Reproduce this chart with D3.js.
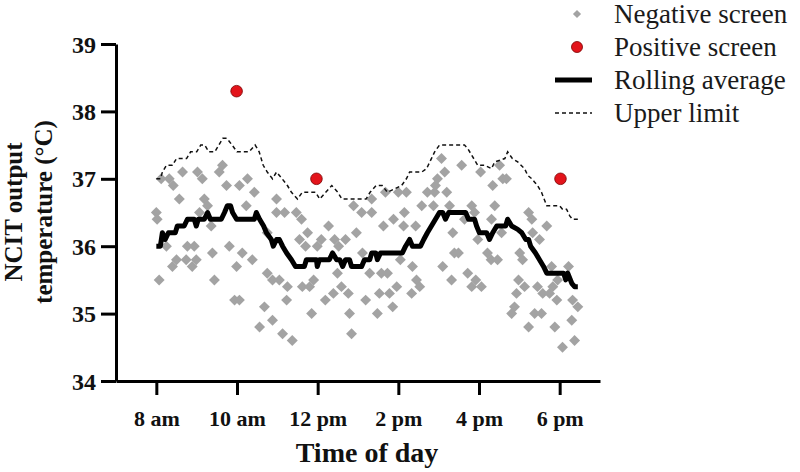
<!DOCTYPE html>
<html>
<head>
<meta charset="utf-8">
<script src="https://cdn.jsdelivr.net/npm/d3@7"></script>
<style>
  html, body { margin: 0; padding: 0; background: #fff; }
  svg { display: block; }
</style>
</head>
<body>
<svg id="chart" width="800" height="472"></svg>
<script>
// ---------- DATA ----------
const xTickHours = [8, 10, 12, 14, 16, 18];
const xTickLabels = ["8 am", "10 am", "12 pm", "2 pm", "4 pm", "6 pm"];
const yTicks = [34, 35, 36, 37, 38, 39];

// Negative screen (grey diamonds): time of day (hours), temperature (°C)
const negTimes = [8.00, 8.02, 8.07, 8.12, 8.25, 8.32, 8.42, 8.40, 8.50, 8.57, 8.65, 8.74, 8.77, 8.94, 8.89, 8.99,
  9.02, 9.14, 9.07, 9.19, 9.27, 9.36, 9.39, 9.44, 9.56, 9.64, 9.74, 9.81, 9.94, 10.06, 9.99, 10.13, 10.06, 10.26,
  10.23, 10.43, 10.38, 10.56, 10.68, 10.75, 10.75, 10.88, 11.05, 10.88, 10.98, 10.98, 11.18, 11.47, 11.60, 11.13,
  11.23, 11.25, 11.37, 11.55, 11.70, 11.75, 11.62, 11.80, 11.90, 11.85, 11.99, 12.09, 12.19, 12.27, 12.39, 12.42,
  12.52, 12.49, 12.59, 12.69, 12.76, 12.79, 12.84, 12.89, 12.96, 13.09, 13.11, 13.19, 13.29, 13.34, 13.34, 13.48,
  13.53, 13.58, 13.63, 13.68, 13.73, 13.78, 13.86, 13.88, 13.96, 14.00, 14.05, 14.13, 14.15, 14.20, 14.33, 14.35,
  14.43, 14.45, 14.53, 14.58, 14.72, 14.87, 14.90, 14.92, 14.97, 15.15, 15.07, 15.20, 15.27, 15.10, 15.32, 15.35,
  15.39, 15.49, 15.57, 15.64, 15.72, 15.82, 15.89, 15.97, 15.82, 15.92, 16.06, 16.04, 16.51, 16.34, 16.59, 16.68,
  16.39, 16.31, 16.56, 16.21, 16.30, 16.46, 17.01, 17.08, 17.23, 17.31, 17.68, 17.33, 17.50, 17.80, 18.22, 16.98,
  16.93, 17.13, 17.45, 17.58, 17.75, 17.83, 17.95, 17.93, 18.32, 18.45, 16.88, 16.81, 17.38, 17.55, 17.23, 17.88,
  18.30, 18.37, 18.07];
const negTemps = [36.5, 36.4, 35.5, 37.0, 36.0, 37.0, 36.9, 35.7, 35.8, 36.7, 37.1, 35.8, 36.0, 36.0, 35.7, 35.8,
  37.1, 37.0, 36.5, 36.7, 36.6, 36.3, 35.9, 35.5, 37.1, 37.2, 36.9, 36.0, 35.2, 35.2, 35.7, 35.9, 36.9, 37.0,
  36.6, 36.8, 35.8, 34.8, 35.1, 35.6, 36.2, 35.5, 35.5, 34.9, 36.7, 36.5, 36.5, 36.5, 36.4, 34.7,
  35.2, 35.4, 34.6, 36.1, 36.0, 36.2, 35.4, 35.4, 35.5, 35.0, 36.0, 36.1, 35.2, 36.3, 35.3, 36.1,
  36.0, 35.6, 35.4, 36.1, 35.3, 35.0, 34.7, 36.6, 36.2, 36.5, 35.9, 35.2, 35.6, 36.7, 36.5, 35.0,
  35.3, 35.6, 36.3, 36.8, 35.6, 35.3, 35.1, 36.4, 35.4, 36.8, 35.8, 36.3, 36.5, 36.8, 35.3, 35.7,
  36.3, 35.5, 35.4, 36.6, 36.8, 36.6, 36.8, 36.9, 37.0, 37.1, 37.3, 36.8, 36.6, 35.7, 35.5, 36.2,
  35.9, 35.9, 37.2, 36.4, 35.6, 36.6, 36.5, 36.1, 35.4, 35.5, 35.4, 37.1, 37.2, 36.9, 37.0, 37.0,
  36.6, 36.4, 36.2, 35.9, 35.8, 35.8, 35.9, 35.8, 36.5, 36.4, 36.3, 36.2, 36.1, 35.7, 35.7, 35.5,
  35.3, 35.4, 35.4, 35.3, 35.3, 35.4, 35.5, 35.2, 35.2, 35.1, 35.1, 35.0, 35.0, 35.0, 34.8, 34.8,
  34.9, 34.6, 34.5];

// Positive screen (red circles)
const posTimes = [9.99, 11.97, 18.02];
const posTemps = [38.3, 37.0, 37.0];

// Rolling average (thick black line)
const avgTimes = [8.00, 8.10, 8.15, 8.22, 8.30, 8.47, 8.52, 8.69, 8.77, 8.94, 8.99, 9.04, 9.19, 9.27, 9.34, 9.61,
  9.69, 9.76, 9.84, 9.89, 9.99, 10.43, 10.48, 10.56, 10.66, 10.73, 10.85, 10.90, 10.98, 11.05, 11.13, 11.23,
  11.35, 11.45, 11.67, 11.72, 11.97, 11.99, 12.04, 12.29, 12.37, 12.47, 12.55, 12.62, 12.69, 12.79, 12.84, 13.09,
  13.16, 13.29, 13.34, 13.44, 13.48, 13.56, 14.10, 14.18, 14.28, 14.35, 14.55, 14.63, 14.72, 14.82, 14.92, 15.02,
  15.10, 15.17, 15.25, 15.67, 15.74, 15.89, 15.94, 16.01, 16.19, 16.26, 16.34, 16.44, 16.66, 16.71, 16.81, 16.96,
  17.06, 17.16, 17.23, 17.28, 17.40, 17.50, 17.60, 17.68, 18.10, 18.15, 18.20, 18.30, 18.37, 18.45];
const avgTemps = [36.0, 36.0, 36.2, 36.1, 36.2, 36.2, 36.3, 36.3, 36.4, 36.4, 36.3, 36.4, 36.4, 36.5, 36.4, 36.4,
  36.5, 36.6, 36.6, 36.5, 36.4, 36.4, 36.5, 36.4, 36.3, 36.2, 36.1, 36.0, 36.1, 36.1, 36.0, 35.9,
  35.8, 35.7, 35.7, 35.8, 35.8, 35.7, 35.8, 35.8, 35.9, 35.8, 35.8, 35.7, 35.8, 35.8, 35.7, 35.7,
  35.8, 35.8, 35.9, 35.9, 35.8, 35.9, 35.9, 36.0, 36.1, 36.0, 36.0, 36.1, 36.2, 36.3, 36.4, 36.5,
  36.5, 36.4, 36.5, 36.5, 36.4, 36.4, 36.3, 36.2, 36.2, 36.1, 36.2, 36.3, 36.3, 36.4, 36.3, 36.25,
  36.2, 36.1, 36.1, 36.0, 35.9, 35.8, 35.7, 35.6, 35.6, 35.5, 35.6, 35.45, 35.4, 35.4];

// Upper limit (thin dashed line)
const limTimes = [8.00, 8.10, 8.15, 8.25, 8.40, 8.50, 8.75, 8.85, 9.00, 9.10, 9.20, 9.30, 9.45, 9.55, 9.65, 9.75,
  9.88, 10.00, 10.30, 10.45, 10.55, 10.65, 10.75, 10.88, 10.98, 11.12, 11.25, 11.35, 11.50, 11.62, 11.95, 12.05,
  12.20, 12.35, 12.50, 12.60, 13.20, 13.30, 13.45, 13.60, 13.73, 14.08, 14.20, 14.28, 14.58, 14.70, 14.82, 14.90,
  15.02, 15.20, 15.32, 15.64, 15.72, 15.82, 15.97, 16.14, 16.31, 16.39, 16.64, 16.71, 16.83, 16.96, 17.13, 17.21,
  17.31, 17.38, 17.45, 17.55, 17.68, 18.00, 18.07, 18.17, 18.25, 18.32, 18.45];
const limTemps = [37.0, 37.0, 37.1, 37.2, 37.2, 37.3, 37.3, 37.4, 37.4, 37.5, 37.5, 37.4, 37.4, 37.5, 37.6, 37.6,
  37.5, 37.4, 37.4, 37.5, 37.4, 37.2, 37.1, 37.0, 37.1, 37.0, 36.9, 36.8, 36.7, 36.8, 36.8, 36.7,
  36.8, 36.9, 36.8, 36.7, 36.7, 36.8, 36.9, 36.9, 36.8, 36.9, 37.0, 37.1, 37.1, 37.15, 37.3, 37.4,
  37.5, 37.5, 37.5, 37.5, 37.45, 37.35, 37.2, 37.2, 37.15, 37.25, 37.3, 37.4, 37.3, 37.25, 37.15, 37.05,
  37.0, 36.95, 36.9, 36.8, 36.6, 36.6, 36.55, 36.55, 36.45, 36.4, 36.4];

// ---------- CHART ----------
const svg = d3.select("#chart");
const serif = "'Liberation Serif', 'Times New Roman', serif";

const x = d3.scaleLinear().domain([7, 19]).range([116, 600]);
const y = d3.scaleLinear().domain([34, 39]).range([381, 44]);

// Axes
const xAxis = svg.append("g").attr("transform", `translate(0,${y(34)})`)
  .call(d3.axisBottom(x).tickValues(xTickHours).tickFormat((d, i) => xTickLabels[i]).tickSize(14).tickSizeOuter(0).tickPadding(31));
const yAxis = svg.append("g").attr("transform", `translate(${x(7)},0)`)
  .call(d3.axisLeft(y).tickValues(yTicks).tickFormat(d3.format("d")).tickSize(15).tickSizeOuter(0).tickPadding(5));

[xAxis, yAxis].forEach(g => {
  g.select(".domain").attr("stroke", "#000").attr("stroke-width", 3);
  g.selectAll(".tick line").attr("stroke", "#000").attr("stroke-width", 3);
  g.selectAll(".tick text").attr("fill", "#111").attr("font-family", serif).attr("font-weight", "bold");
});
xAxis.selectAll(".tick text").attr("font-size", 22).attr("dy", "0");
yAxis.selectAll(".tick text").attr("font-size", 24).attr("dy", "0.34em");

// Axis titles
svg.append("text").attr("x", 367).attr("y", 462).attr("text-anchor", "middle")
  .attr("font-family", serif).attr("font-weight", "bold").attr("font-size", 28).attr("fill", "#111")
  .text("Time of day");
const yt = svg.append("text").attr("transform", "translate(22,212) rotate(-90)").attr("text-anchor", "middle")
  .attr("font-family", serif).attr("font-weight", "bold").attr("font-size", 25).attr("fill", "#111");
yt.append("tspan").attr("x", 0).attr("y", 0).text("NCIT output");
yt.append("tspan").attr("x", 0).attr("y", 30).text("temperature (°C)");

// Negative screen diamonds
const diamond = d3.symbol().type(d3.symbolSquare).size(60);
svg.append("g").selectAll("path").data(negTimes.map((t, i) => [t, negTemps[i]])).join("path")
  .attr("d", diamond)
  .attr("transform", d => `translate(${x(d[0])},${y(d[1])}) rotate(45)`)
  .attr("fill", "#a3a3a3");

// Upper limit
const line = d3.line().x(d => x(d[0])).y(d => y(d[1]));
svg.append("path").datum(limTimes.map((t, i) => [t, limTemps[i]]))
  .attr("d", line).attr("fill", "none").attr("stroke", "#111").attr("stroke-width", 1.5)
  .attr("stroke-dasharray", "4,3");

// Rolling average
svg.append("path").datum(avgTimes.map((t, i) => [t, avgTemps[i]]))
  .attr("d", line).attr("fill", "none").attr("stroke", "#000").attr("stroke-width", 5)
  .attr("stroke-linejoin", "round");

// Positive screen
svg.append("g").selectAll("circle").data(posTimes.map((t, i) => [t, posTemps[i]])).join("circle")
  .attr("cx", d => x(d[0])).attr("cy", d => y(d[1])).attr("r", 5.8)
  .attr("fill", "#e3141b").attr("stroke", "#7a0000").attr("stroke-width", 0.8);

// Legend
const legendItems = ["Negative screen", "Positive screen", "Rolling average", "Upper limit"];
const lg = svg.append("g");
const ly = [14, 47, 80, 113];
lg.append("path").attr("d", d3.symbol().type(d3.symbolSquare).size(34)())
  .attr("transform", `translate(577,${ly[0]}) rotate(45)`).attr("fill", "#a3a3a3");
lg.append("circle").attr("cx", 577).attr("cy", ly[1]).attr("r", 5.5)
  .attr("fill", "#e3141b").attr("stroke", "#7a0000").attr("stroke-width", 0.8);
lg.append("line").attr("x1", 555).attr("x2", 592).attr("y1", ly[2]).attr("y2", ly[2])
  .attr("stroke", "#000").attr("stroke-width", 5);
lg.append("line").attr("x1", 555).attr("x2", 592).attr("y1", ly[3]).attr("y2", ly[3])
  .attr("stroke", "#111").attr("stroke-width", 1.5).attr("stroke-dasharray", "4,3");
lg.selectAll("text").data(legendItems).join("text")
  .attr("x", 614).attr("y", (d, i) => ly[i] + 9)
  .attr("font-family", serif).attr("font-size", 27).attr("fill", "#1a1a1a")
  .text(d => d);
</script>
</body>
</html>
